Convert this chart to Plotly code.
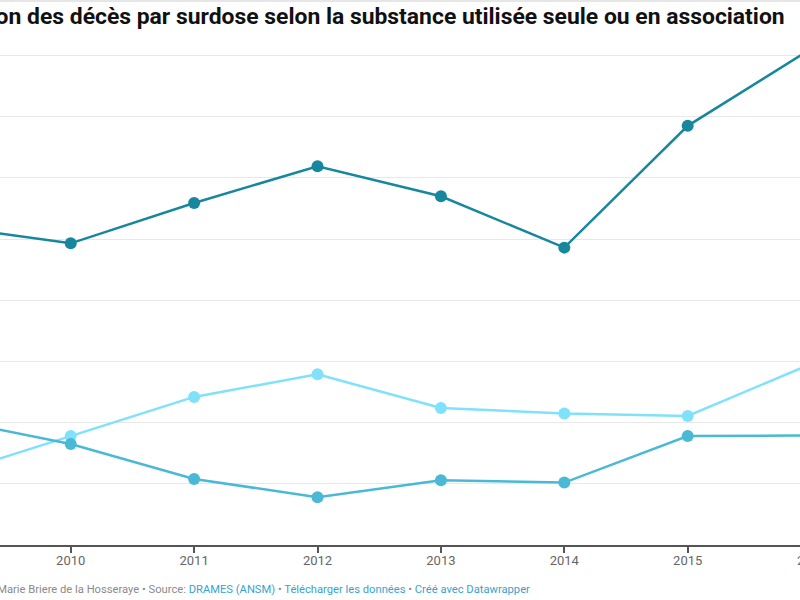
import plotly.graph_objects as go

years = [2009, 2010, 2011, 2012, 2013, 2014, 2015, 2016]
serie_fonce = [52.1, 49.3, 55.9, 61.9, 57.0, 48.6, 68.5, 81.1]
serie_claire = [11.4, 17.8, 24.2, 27.9, 22.4, 21.5, 21.1, 29.6]
serie_moyenne = [20.6, 16.5, 10.8, 7.8, 10.6, 10.2, 17.8, 17.9]
tick_years = [2010, 2011, 2012, 2013, 2014, 2015]

title_text = "Évolution des décès par surdose selon la substance utilisée seule ou en association"

x_range = [2009.427, 2015.910]

fig = go.Figure()
for vals, col in [(serie_claire, "#80e1fb"), (serie_moyenne, "#4bb9d5"), (serie_fonce, "#17879e")]:
    fig.add_trace(go.Scatter(
        x=years, y=vals, mode="lines+markers",
        line=dict(color=col, width=2.5),
        marker=dict(color=col, size=12),
        showlegend=False, hoverinfo="skip",
    ))

fig.update_layout(
    width=800, height=600,
    margin=dict(l=0, r=0, t=0, b=55, autoexpand=False),
    paper_bgcolor="white", plot_bgcolor="white",
    font=dict(family="Roboto", color="#666"),
    xaxis=dict(range=x_range, tickvals=tick_years, showgrid=False,
               zeroline=False, showline=True, linecolor="#555", linewidth=2,
               ticks="outside", ticklen=6, tickwidth=2, tickcolor="#555",
               ticklabelstandoff=-4,
               tickfont=dict(size=13, color="#666", family="Roboto"),
               automargin=False),
    yaxis=dict(range=[0, 89.07], dtick=10, showgrid=True, gridcolor="#e8e8e8",
               gridwidth=1, zeroline=False, showticklabels=False, automargin=False),
)

# label of the partially visible last year (beyond the axis range)
last_pos = (years[-1] - x_range[0]) / (x_range[1] - x_range[0])
fig.add_annotation(x=last_pos, y=0, xref="paper", yref="paper", yshift=-15,
                   xanchor="center", yanchor="middle",
                   text=str(years[-1]), showarrow=False,
                   font=dict(size=13, color="#666", family="Roboto"))

fig.add_shape(type="line", xref="paper", yref="paper", x0=0, x1=1, y0=0.998, y1=0.998,
              line=dict(color="#e6e6e6", width=2))

fig.add_annotation(xref="paper", yref="paper", x=787/800, y=1 - 16/545,
                   xanchor="right", yanchor="middle", showarrow=False,
                   text="<b>" + title_text + "</b>",
                   font=dict(size=22.9, color="#111", family="Roboto"))

footer = ('<span style="color:#8a8a8a">Graphique : Marie Briere de la Hosseraye • Source: </span>'
          '<span style="color:#3aa3cb">DRAMES (ANSM)</span>'
          '<span style="color:#8a8a8a"> • </span>'
          '<span style="color:#3aa3cb">Télécharger les données</span>'
          '<span style="color:#8a8a8a"> • </span>'
          '<span style="color:#3aa3cb">Créé avec Datawrapper</span>')
fig.add_annotation(xref="paper", yref="paper", x=532/800, y=-(589 - 545) / 545,
                   xanchor="right", yanchor="middle", showarrow=False,
                   text=footer, font=dict(size=11.2, family="Roboto"))

fig.write_html("out.html", config={"displayModeBar": False},
               post_script="document.body.style.margin='0';document.body.style.overflow='hidden';")
